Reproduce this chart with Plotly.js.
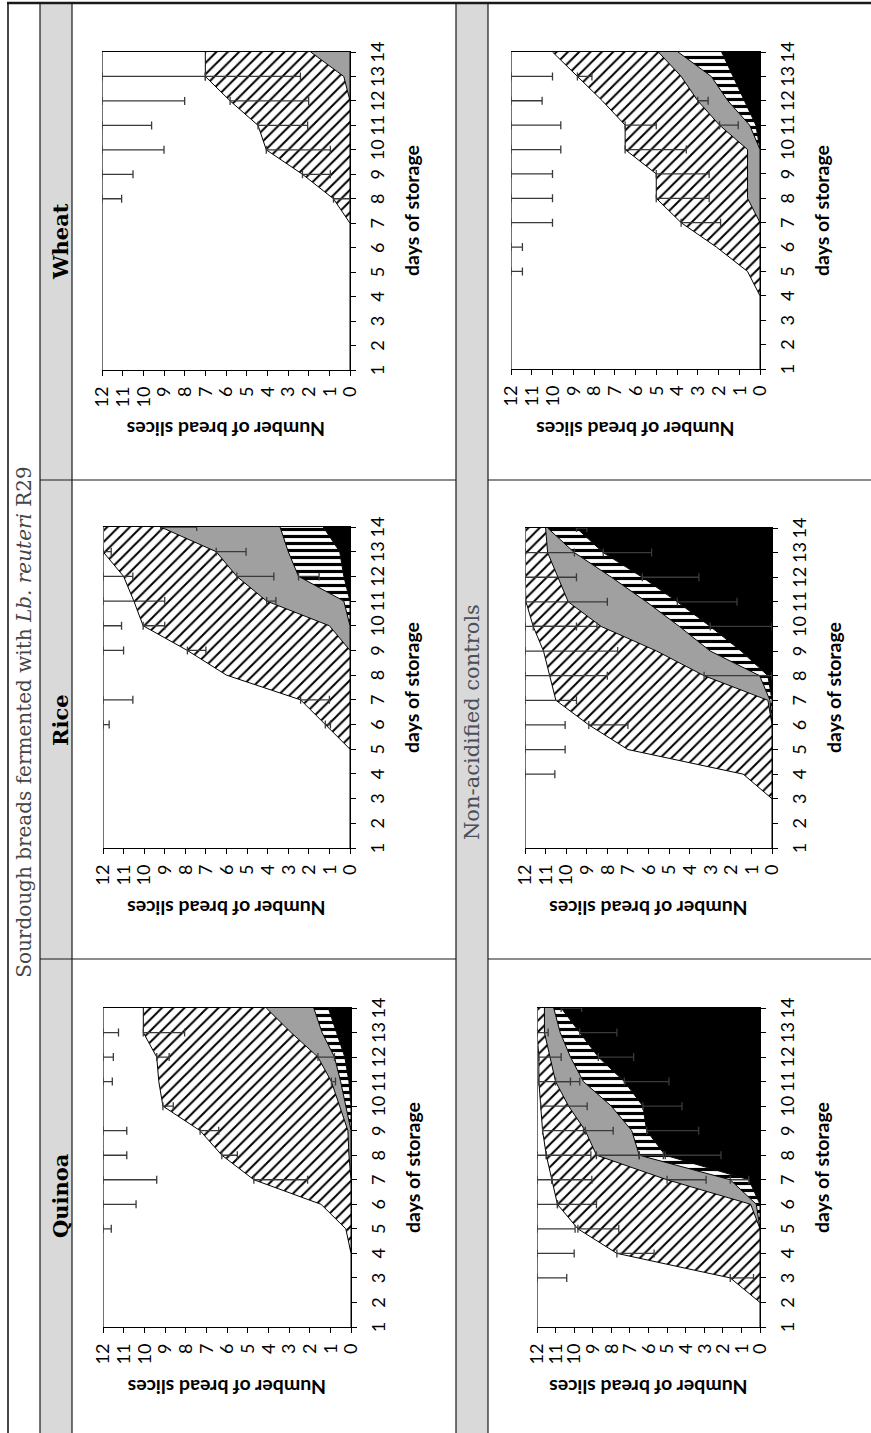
<!DOCTYPE html>
<html><head><meta charset="utf-8">
<script src="https://cdn.plot.ly/plotly-3.0.1.min.js"></script>
<style>
html,body{margin:0;padding:0;overflow:hidden;background:#fff;width:871px;height:1433px;}
#frame{position:absolute;left:0;top:0;width:871px;height:1433px;overflow:hidden;background:#fff;}
#chart{position:absolute;left:0;top:0;width:1433px;height:871px;transform-origin:0 0;}
</style></head><body>
<div id="frame"><div id="chart"></div></div>
<script>
// ---------- data ----------
const days = [1,2,3,4,5,6,7,8,9,10,11,12,13,14];
const dayLabels = ['1','2','3','4','5','6','7','8','9','10','11','12','13','14'];
const valueTicks = [0,1,2,3,4,5,6,7,8,9,10,11,12];
const valueLabels = ['0','1','2','3','4','5','6','7','8','9','10','11','12'];

const mainTitle = 'Sourdough breads fermented with <i>Lb. reuteri</i> R29';
const columnTitles = ['Quinoa','Rice','Wheat'];
const rowTitle2 = 'Non-acidified controls';
const yTitle = 'Number of bread slices';
const xTitle = 'days of storage';

// Quinoa - sourdough
const quinoaSD_black   = [0,0,0,0,0,0,0,0,0,0,0.1,0.3,0.7,1.1];
const quinoaSD_stripes = [0,0,0,0,0,0,0,0,0,0.25,0.4,0.5,0.7,0.7];
const quinoaSD_grey    = [0,0,0,0,0,0,0,0.1,0.15,0.3,0.45,0.8,1.5,2.3];
const quinoaSD_hatch   = [0,0,0,0,0.25,1.45,4.7,6.15,7.15,8.55,8.35,7.8,7.15,5.95];
const quinoaSD_white   = [12,12,12,12,11.75,10.55,7.3,5.75,4.7,2.9,2.7,2.6,1.95,1.95];
const quinoaSD_errWhite = [null,null,null,null,0.4,1.6,2.6,1.15,1.15,null,0.45,0.5,0.75,null];
const quinoaSD_errHatch = [null,null,null,null,null,null,2.6,0.75,0.9,0.5,null,0.6,2.0,null];
const quinoaSD_errGrey  = [null,null,null,null,null,null,null,null,null,null,0.2,0.8,null,null];

// Rice - sourdough
const riceSD_black   = [0,0,0,0,0,0,0,0,0,0,0,0.3,0.5,1.3];
const riceSD_stripes = [0,0,0,0,0,0,0,0,0,0,0.3,2.2,2.5,2.1];
const riceSD_grey    = [0,0,0,0,0,0,0,0,0,1.0,3.75,3.0,3.5,5.8];
const riceSD_hatch   = [0,0,0,0,0,1.2,2.4,6.0,7.9,9.05,6.45,5.5,5.5,2.8];
const riceSD_white   = [12,12,12,12,12,10.8,9.6,6.0,4.1,1.95,1.5,1.0,0,0];
const riceSD_errWhite   = [null,null,null,null,null,0.3,1.45,null,1.0,0.9,3.0,1.45,0.4,null];
const riceSD_errHatch   = [null,null,null,null,null,0.25,1.4,null,0.9,1.05,null,null,null,null];
const riceSD_errGrey    = [null,null,null,null,null,null,null,null,null,null,0.45,1.8,1.45,1.75];
const riceSD_errStripes = [null,null,null,null,null,null,null,null,null,null,null,1.0,null,null];

// Wheat - sourdough
const wheatSD_black   = [0,0,0,0,0,0,0,0,0,0,0,0,0,0];
const wheatSD_stripes = [0,0,0,0,0,0,0,0,0,0,0,0,0,0];
const wheatSD_grey    = [0,0,0,0,0,0,0,0,0,0,0,0,0.3,1.9];
const wheatSD_hatch   = [0,0,0,0,0,0,0,0.8,2.3,4.05,4.45,5.8,6.7,5.1];
const wheatSD_white   = [12,12,12,12,12,12,12,11.2,9.7,7.95,7.55,6.2,5.0,5.0];
const wheatSD_errWhite = [null,null,null,null,null,null,null,0.95,1.5,3.0,2.4,4.0,5.0,null];
const wheatSD_errHatch = [null,null,null,null,null,null,null,0.8,1.35,3.1,2.4,3.8,4.6,null];

// Quinoa - non-acidified control
const quinoaNA_black   = [0,0,0,0,0,0,0.6,5.1,6.1,6.3,7.3,8.7,9.7,10.7];
const quinoaNA_stripes = [0,0,0,0,0,0.2,1.0,1.4,0.8,1.7,2.2,1.5,1.05,0.4];
const quinoaNA_grey    = [0,0,0,0,0,0.3,3.4,2.3,2.5,2.3,1.5,1.1,0.85,0.5];
const quinoaNA_hatch   = [0,0,1.6,7.7,9.8,10.4,6.2,2.7,2.3,1.5,0.9,0.6,0.4,0.4];
const quinoaNA_white   = [12,12,10.4,4.3,2.2,1.1,0.8,0.5,0.3,0.2,0.1,0.1,0,0];
const quinoaNA_errWhite   = [null,null,1.6,2.0,2.05,1.1,0.8,0.5,null,null,null,null,null,null];
const quinoaNA_errHatch   = [null,null,1.25,2.0,2.2,2.1,2.15,2.4,2.2,2.5,1.7,1.2,0.6,null];
const quinoaNA_errGrey    = [null,null,null,null,null,null,2.1,2.3,1.5,null,1.3,null,null,null];
const quinoaNA_errStripes = [null,null,null,null,null,null,1.0,1.3,null,null,null,null,null,null];
const quinoaNA_errBlack   = [null,null,null,null,null,null,null,3.0,2.8,2.1,2.4,1.9,2.0,1.1];

// Rice - non-acidified control
const riceNA_black   = [0,0,0,0,0,0,0,0.2,1.5,3.0,4.6,6.3,8.2,9.5];
const riceNA_stripes = [0,0,0,0,0,0,0.1,0.4,1.5,1.5,1.5,1.5,1.4,1.4];
const riceNA_grey    = [0,0,0,0,0,0,0.1,2.7,2.6,3.8,3.8,2.6,1.3,0.1];
const riceNA_hatch   = [0,0,0,1.4,7.0,8.9,10.3,7.5,5.5,3.3,2.05,1.6,1.1,1.0];
const riceNA_white   = [12,12,12,10.6,5.0,3.1,1.5,1.2,0.9,0.4,0.05,0,0,0];
const riceNA_errWhite = [null,null,null,1.45,1.95,1.95,2.5,4.0,4.5,2.5,4.0,2.5,2.4,null];
const riceNA_errHatch = [null,null,null,null,null,1.9,null,null,null,3.1,null,null,null,null];
const riceNA_errGrey  = [null,null,null,null,null,null,null,3.3,null,null,null,null,null,null];
const riceNA_errBlack = [null,null,null,null,null,null,null,null,null,3.0,2.9,2.75,2.35,0.5];

// Wheat - non-acidified control
const wheatNA_black   = [0,0,0,0,0,0,0,0,0,0,0.2,0.75,1.3,1.85];
const wheatNA_stripes = [0,0,0,0,0,0,0,0,0,0,0.3,0.8,1.05,2.1];
const wheatNA_grey    = [0,0,0,0,0,0,0,0.6,0.6,0.6,1.45,1.45,1.45,0.95];
const wheatNA_hatch   = [0,0,0,0,0.6,2.1,3.8,4.4,4.4,5.9,4.55,4.6,5.0,5.1];
const wheatNA_white   = [12,12,12,12,11.4,9.9,8.2,7.0,7.0,5.5,5.5,4.4,3.2,2.0];
const wheatNA_errWhite = [null,null,null,null,0.55,0.55,2.0,2.0,2.0,2.4,2.4,1.5,2.0,null];
const wheatNA_errHatch = [null,null,null,null,null,null,1.9,2.55,2.55,2.95,1.5,null,0.7,null];
const wheatNA_errGrey  = [null,null,null,null,null,null,null,null,null,null,0.9,0.5,null,null];

// ---------- figure geometry (landscape figure, rotated afterwards) ----------
const W = 1433, H = 871;
const charts = [
  {data:{black:quinoaSD_black,stripes:quinoaSD_stripes,grey:quinoaSD_grey,hatch:quinoaSD_hatch,white:quinoaSD_white},
   err:{white:quinoaSD_errWhite,hatch:quinoaSD_errHatch,grey:quinoaSD_errGrey}, px:[106,425], py:[103,351]},
  {data:{black:riceSD_black,stripes:riceSD_stripes,grey:riceSD_grey,hatch:riceSD_hatch,white:riceSD_white},
   err:{white:riceSD_errWhite,hatch:riceSD_errHatch,grey:riceSD_errGrey,stripes:riceSD_errStripes}, px:[585,906], py:[103,350]},
  {data:{black:wheatSD_black,stripes:wheatSD_stripes,grey:wheatSD_grey,hatch:wheatSD_hatch,white:wheatSD_white},
   err:{white:wheatSD_errWhite,hatch:wheatSD_errHatch}, px:[1063,1381], py:[102,350]},
  {data:{black:quinoaNA_black,stripes:quinoaNA_stripes,grey:quinoaNA_grey,hatch:quinoaNA_hatch,white:quinoaNA_white},
   err:{white:quinoaNA_errWhite,hatch:quinoaNA_errHatch,grey:quinoaNA_errGrey,stripes:quinoaNA_errStripes,black:quinoaNA_errBlack}, px:[106,425], py:[537,760]},
  {data:{black:riceNA_black,stripes:riceNA_stripes,grey:riceNA_grey,hatch:riceNA_hatch,white:riceNA_white},
   err:{white:riceNA_errWhite,hatch:riceNA_errHatch,grey:riceNA_errGrey,black:riceNA_errBlack}, px:[585,905], py:[525,772]},
  {data:{black:wheatNA_black,stripes:wheatNA_stripes,grey:wheatNA_grey,hatch:wheatNA_hatch,white:wheatNA_white},
   err:{white:wheatNA_errWhite,hatch:wheatNA_errHatch,grey:wheatNA_errGrey}, px:[1064,1381], py:[511,760]}
];

const seriesOrder = ['black','stripes','grey','hatch','white'];
const seriesStyle = {
  black:   {fillcolor:'#000000'},
  stripes: {fillcolor:'#ffffff', fillpattern:{shape:'|', fgcolor:'#000000', bgcolor:'#ffffff', size:7, solidity:0.45}},
  grey:    {fillcolor:'#a0a0a0'},
  hatch:   {fillcolor:'#ffffff', fillpattern:{shape:'\\', fgcolor:'#000000', bgcolor:'#ffffff', size:8, solidity:0.25}},
  white:   {fillcolor:'#ffffff'}
};

const traces = [];
const errTraces = [];
const layout = {
  width: W, height: H,
  margin:{l:0,r:0,t:0,b:0},
  paper_bgcolor:'#ffffff', plot_bgcolor:'#ffffff',
  showlegend:false,
  title:{text:mainTitle, x:711/W, xanchor:'center', y:1-24/H, yanchor:'middle',
         font:{family:'DejaVu Serif, serif', size:20, color:'#454545'}},
  annotations:[], shapes:[]
};
const tickFont = {family:'Lato, sans-serif', size:18, color:'#000'};
const axTitleFont = {family:'Lato, sans-serif', size:19.5, color:'#000', weight:'bold'};

charts.forEach((c,i)=>{
  const n = i ? String(i+1) : '';
  const xa = 'x'+n, ya = 'y'+n;
  let cum = days.map(()=>0);
  c.cums = {};
  seriesOrder.forEach((s,j)=>{
    cum = cum.map((v,k)=>v + c.data[s][k]);
    c.cums[s] = cum.slice();
    const t = Object.assign({
      type:'scatter', mode:'lines', x:days, y:cum.slice(), xaxis:xa, yaxis:ya,
      fill: j===0 ? 'tozeroy' : 'tonexty',
      line:{color: s==='white' ? '#707070' : '#000000', width: s==='white' ? 2 : 1},
      hoverinfo:'skip', showlegend:false
    }, seriesStyle[s]);
    traces.push(t);
  });
  seriesOrder.forEach(s=>{
    const e = c.err[s];
    if(!e) return;
    const xs=[], ys=[], em=[];
    e.forEach((v,k)=>{ if(v!==null){ xs.push(days[k]); ys.push(c.cums[s][k]); em.push(v); } });
    errTraces.push({type:'scatter', mode:'markers', x:xs, y:ys, xaxis:xa, yaxis:ya,
      marker:{size:2, opacity:0}, hoverinfo:'skip', showlegend:false, cliponaxis:false,
      error_y:{type:'data', symmetric:false, array:em.map(()=>0), arrayminus:em,
               color:'#3a3a3a', thickness:1.3, width:4}});
  });
  layout['xaxis'+n] = {domain:[c.px[0]/W, c.px[1]/W], anchor:ya, range:[1,14],
    tickmode:'array', tickvals:days, ticktext:dayLabels, tickangle:0,
    ticks:'outside', ticklen:5, tickwidth:1, tickcolor:'#000', ticklabelstandoff:6,
    showline:true, linecolor:'#000', linewidth:1, showgrid:false, zeroline:false,
    tickfont:tickFont, fixedrange:true};
  layout['yaxis'+n] = {domain:[1-c.py[1]/H, 1-c.py[0]/H], anchor:xa, range:[0,12],
    tickmode:'array', tickvals:valueTicks, ticktext:valueLabels, tickangle:0,
    ticks:'outside', ticklen:5, tickwidth:1, tickcolor:'#000', ticklabelstandoff:7,
    showline:true, mirror:true, linecolor:'#000', linewidth:1, showgrid:false, zeroline:false,
    tickfont:tickFont, fixedrange:true};
  layout.annotations.push({text:yTitle, xref:'paper', yref:'paper',
    x:(c.px[0]-60)/W, y:1-((c.py[0]+c.py[1])/2)/H, textangle:-90,
    xanchor:'center', yanchor:'middle', showarrow:false, font:axTitleFont});
  layout.annotations.push({text:xTitle, xref:'paper', yref:'paper',
    x:((c.px[0]+c.px[1])/2)/W, y:1-(c.py[1]+61)/H,
    xanchor:'center', yanchor:'middle', showarrow:false, font:axTitleFont});
});

// column headers and row header
const headerX = [237, 713, 1191];
columnTitles.forEach((t,i)=>{
  layout.annotations.push({text:t, xref:'paper', yref:'paper', x:headerX[i]/W, y:1-61/H,
    xanchor:'center', yanchor:'middle', showarrow:false,
    font:{family:'DejaVu Serif, serif', size:21, color:'#000', weight:'bold'}});
});
layout.annotations.push({text:rowTitle2, xref:'paper', yref:'paper', x:711/W, y:1-472/H,
  xanchor:'center', yanchor:'middle', showarrow:false,
  font:{family:'DejaVu Serif, serif', size:21, color:'#4a4f5a'}});

// table frame
function px2x(v){return v/W;} function py2y(v){return 1-v/H;}
function hband(y0,y1){layout.shapes.push({type:'rect',xref:'paper',yref:'paper',x0:0,x1:px2x(1430),y0:py2y(y1),y1:py2y(y0),fillcolor:'#d9d9d9',line:{width:0},layer:'below'});}
function hline(y,w){layout.shapes.push({type:'line',xref:'paper',yref:'paper',x0:0,x1:px2x(1430),y0:py2y(y),y1:py2y(y),line:{color:'#1a1a1a',width:w},layer:'below'});}
function vline(x,y0,y1,w){layout.shapes.push({type:'line',xref:'paper',yref:'paper',x0:px2x(x),x1:px2x(x),y0:py2y(y0),y1:py2y(y1),line:{color:'#1a1a1a',width:w},layer:'below'});}
hband(40,72); hband(456,488);
hline(8,1.6); hline(40,1.2); hline(72,1.2); hline(456,1.2); hline(488,1.2);
vline(1430,7,871,2.6);
vline(474,40,456,1.2); vline(953,40,456,1.2);
vline(474,488,871,1.2); vline(953,488,871,1.2);

Plotly.newPlot('chart', traces.concat(errTraces), layout, {staticPlot:true, displayModeBar:false}).then(()=>{
  document.getElementById('chart').style.transform = 'translate(0px,1433px) rotate(-90deg)';
});
</script>
</body></html>
